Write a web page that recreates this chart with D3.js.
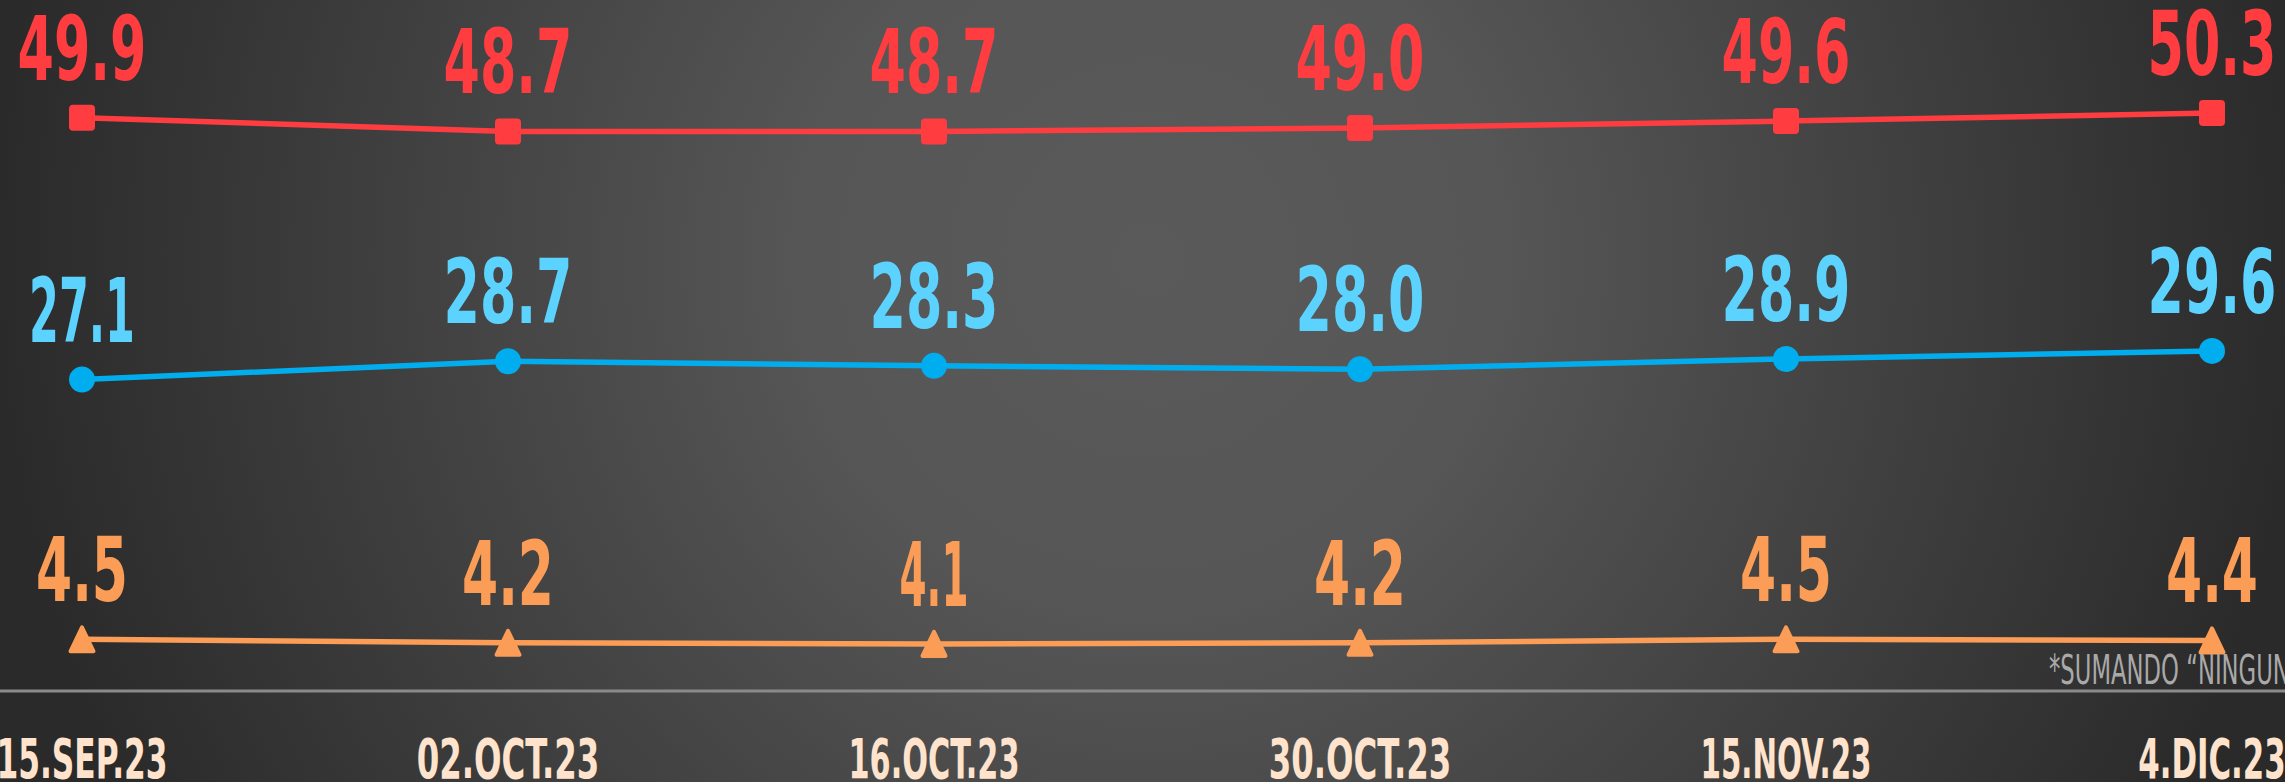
<!DOCTYPE html>
<html>
<head>
<meta charset="utf-8">
<script src="https://cdn.jsdelivr.net/npm/d3@7"></script>
<style>
  html, body { margin: 0; padding: 0; background: #2b2b2b; overflow: hidden; }
</style>
</head>
<body>
<div id="chart"></div>
<script>
// data
var dates = ["15.SEP.23", "02.OCT.23", "16.OCT.23", "30.OCT.23", "15.NOV.23", "4.DIC.23"];
var redValues = [49.9, 48.7, 48.7, 49.0, 49.6, 50.3];
var blueValues = [27.1, 28.7, 28.3, 28.0, 28.9, 29.6];
var orangeValues = [4.5, 4.2, 4.1, 4.2, 4.5, 4.4];
var footnote = "*SUMANDO \u201CNINGUNO\u201D";

var width = 2285, height = 782;

var svg = d3.select("#chart")
    .append("svg")
    .attr("width", width)
    .attr("height", height);

// background
var defs = svg.append("defs");
var grad = defs.append("radialGradient")
    .attr("id", "bg")
    .attr("gradientUnits", "userSpaceOnUse")
    .attr("cx", 1150).attr("cy", 260).attr("r", 1160);
grad.append("stop").attr("offset", 0).attr("stop-color", "#5a5a5a");
grad.append("stop").attr("offset", 0.3).attr("stop-color", "#565656");
grad.append("stop").attr("offset", 1).attr("stop-color", "#2a2a2a");
svg.append("rect")
    .attr("width", width).attr("height", height)
    .attr("fill", "url(#bg)");

// scales
var x = d3.scalePoint()
    .domain(dates)
    .range([82, 2212]);
var y = d3.scaleLinear()
    .domain([0, 50])
    .range([691, 116.5]);

// baseline
svg.append("g")
    .attr("transform", "translate(0," + y(0) + ")")
    .call(d3.axisBottom(x).tickSize(0).tickFormat(""))
    .call(function (g) {
        g.select(".domain")
            .attr("d", "M0,0H" + width)
            .attr("stroke", "#8a8a8a")
            .attr("stroke-width", 3);
    });

// rough ink width for the condensed labels
function inkWidth(str, digitW, dotW, narrowW) {
    var w = 0;
    for (var i = 0; i < str.length; i++) {
        var c = str[i];
        if (c === ".") w += dotW;
        else if (c === "1" || c === "I") w += narrowW;
        else w += digitW;
    }
    return w;
}

var series = [
    { name: "red", values: redValues, line: "#ff3d40", label: "#ff3d40", marker: "square" },
    { name: "blue", values: blueValues, line: "#00aeef", label: "#5cd2ff", marker: "circle" },
    { name: "orange", values: orangeValues, line: "#fb9d56", label: "#fb9d56", marker: "triangle" }
];

var line = d3.line()
    .x(function (d, i) { return x(dates[i]); })
    .y(function (d) { return y(d); });

series.forEach(function (s) {
    var g = svg.append("g").attr("class", "series-" + s.name);

    g.append("path")
        .datum(s.values)
        .attr("d", line)
        .attr("fill", "none")
        .attr("stroke", s.line)
        .attr("stroke-width", 5.5);

    var pts = g.selectAll(".pt")
        .data(s.values)
        .enter();

    if (s.marker === "square") {
        pts.append("rect")
            .attr("x", function (d, i) { return x(dates[i]) - 13; })
            .attr("y", function (d) { return y(d) - 13; })
            .attr("width", 26).attr("height", 26)
            .attr("rx", 4)
            .attr("fill", s.line);
    } else if (s.marker === "circle") {
        pts.append("circle")
            .attr("cx", function (d, i) { return x(dates[i]); })
            .attr("cy", function (d) { return y(d); })
            .attr("r", 13)
            .attr("fill", s.line);
    } else {
        pts.append("path")
            .attr("d", "M0,-12L11.5,12L-11.5,12Z")
            .attr("transform", function (d, i) { return "translate(" + x(dates[i]) + "," + y(d) + ")"; })
            .attr("fill", s.line)
            .attr("stroke", s.line)
            .attr("stroke-width", 4)
            .attr("stroke-linejoin", "round");
    }

    g.selectAll(".lbl")
        .data(s.values)
        .enter()
        .append("text")
        .attr("x", function (d, i) { return x(dates[i]); })
        .attr("y", function (d) { return y(d) - 38; })
        .attr("text-anchor", "middle")
        .attr("font-family", "'DejaVu Sans Condensed', 'DejaVu Sans', sans-serif")
        .attr("font-weight", "bold")
        .attr("font-size", 89)
        .attr("fill", s.label)
        .attr("textLength", function (d) { return inkWidth(d.toFixed(1), 37, 18, 14); })
        .attr("lengthAdjust", "spacingAndGlyphs")
        .text(function (d) { return d.toFixed(1); });
});

// x labels
svg.append("g")
    .selectAll("text")
    .data(dates)
    .enter()
    .append("text")
    .attr("x", function (d) { return x(d); })
    .attr("y", 778)
    .attr("text-anchor", "middle")
    .attr("font-family", "'DejaVu Sans Condensed', 'DejaVu Sans', sans-serif")
    .attr("font-weight", "bold")
    .attr("font-size", 56)
    .attr("fill", "#ffe3cc")
    .attr("textLength", function (d) { return inkWidth(d, 23.5, 9, 12); })
    .attr("lengthAdjust", "spacingAndGlyphs")
    .text(function (d) { return d; });

// footnote
svg.append("text")
    .attr("x", 2049)
    .attr("y", 684)
    .attr("font-family", "'DejaVu Sans Condensed', 'DejaVu Sans', sans-serif")
    .attr("font-size", 40)
    .attr("fill", "#a9a9a9")
    .attr("textLength", 270)
    .attr("lengthAdjust", "spacingAndGlyphs")
    .text(footnote);
</script>
</body>
</html>
